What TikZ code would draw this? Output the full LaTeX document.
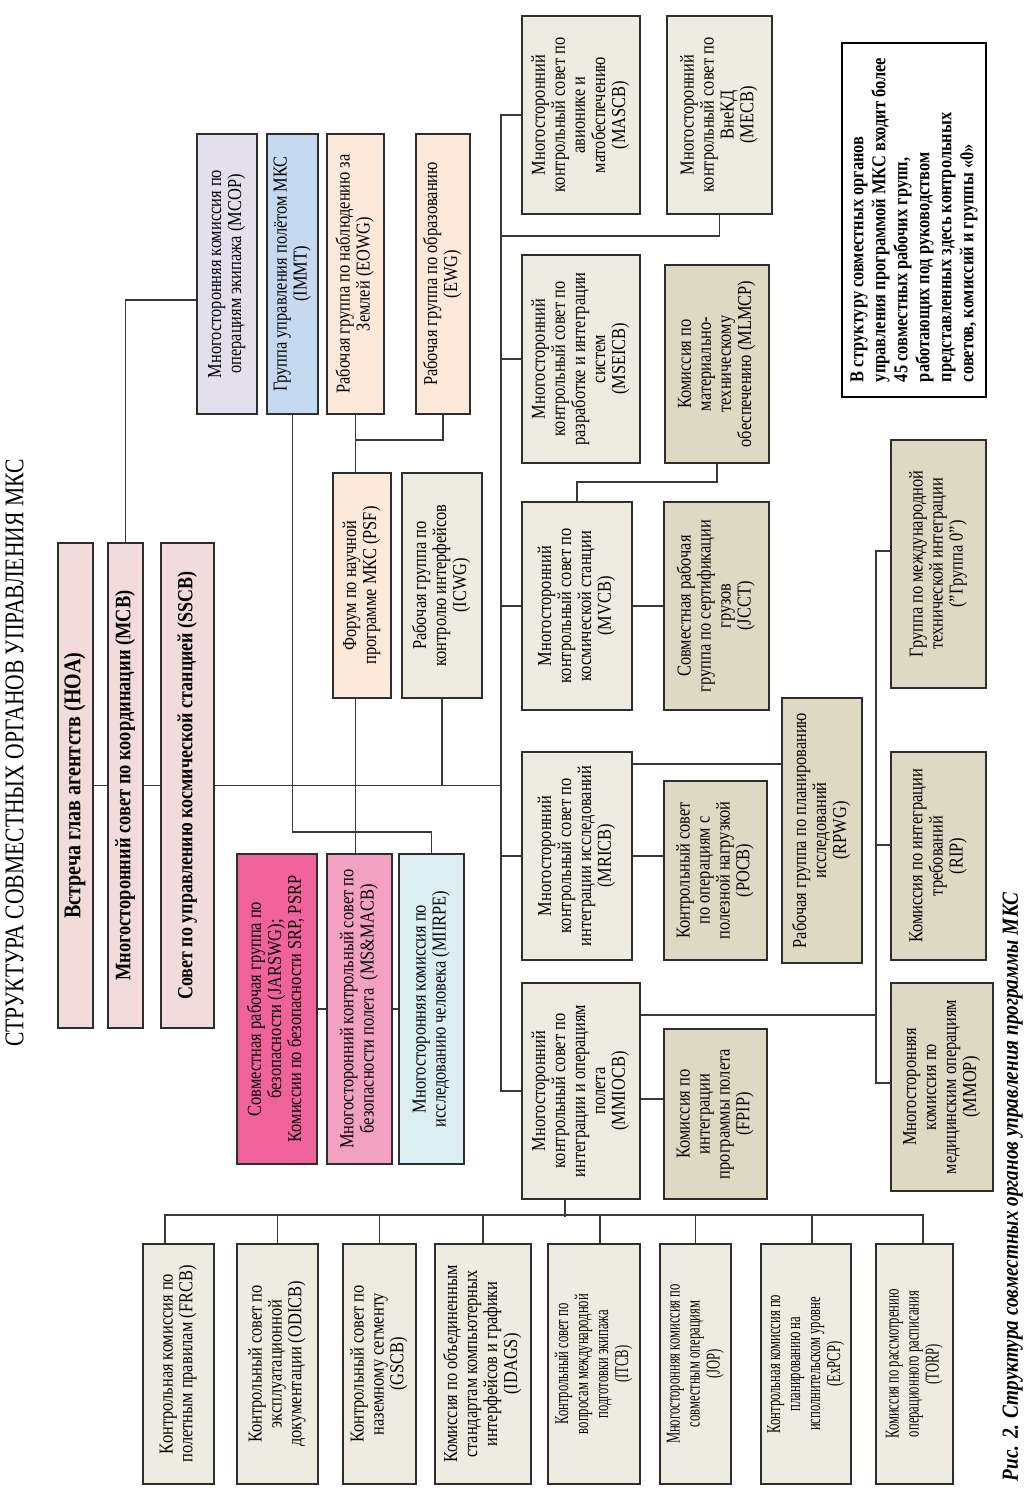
\documentclass[tikz,border=0pt]{standalone}
\usepackage{fontspec}
\setmainfont{Liberation Serif}
\usepackage{graphicx}
\usetikzlibrary{calc}
\pgfdeclarelayer{bg}
\pgfsetlayers{bg,main}
\definecolor{bdr}{HTML}{2E2E2E}
\definecolor{lnc}{HTML}{383838}
\definecolor{pinkA}{HTML}{F2DCDB}
\definecolor{lav}{HTML}{E4DFEC}
\definecolor{blueA}{HTML}{C5D9F1}
\definecolor{peach}{HTML}{FDE9D9}
\definecolor{lightA}{HTML}{EEECE1}
\definecolor{tanA}{HTML}{DDD9C3}
\definecolor{hotpink}{HTML}{F0639A}
\definecolor{pinkB}{HTML}{F3A1C0}
\definecolor{cyanA}{HTML}{DAEEF3}
\newcommand\vtxt[6][c]{\rotatebox{90}{\scalebox{1}[#6]{\fontsize{#2}{#3}\selectfont#4\begin{tabular}{@{}#1@{}}#5\end{tabular}}}}
\newcommand\txn[1]{\vtxt{8.2}{8.33}{}{#1}{1.2}}
\newcommand\txs[1]{\vtxt{6.3}{6.45}{}{#1}{1.55}}
\tikzset{
  bx/.style n args={3}{draw=bdr, line width=1pt, fill=#1, inner sep=0pt, minimum width=#2*0.5pt, minimum height=#3*0.5pt},
  ln/.style={draw=lnc, line width=0.8pt},
}
\begin{document}
\begin{tikzpicture}[x=0.5pt,y=-0.5pt]
\useasboundingbox (0,0) rectangle (1030,1492);

\node[inner sep=0pt] (title) at (18,753) {\vtxt{10.8}{11}{}{СТРУКТУРА СОВМЕСТНЫХ ОРГАНОВ УПРАВЛЕНИЯ МКС}{1.25}};

\node[bx={pinkA}{35}{485}] (HOA) at (75.5,785.5) {\vtxt{10}{10}{\bfseries}{Встреча глав агентств (HOA)}{1.2}};
\node[bx={pinkA}{35}{485}] (MCB) at (125.5,785.5) {\vtxt{9.2}{10}{\bfseries}{Многосторонний совет по координации (MCB)}{1.2}};
\node[bx={pinkA}{53}{485}] (SSCB) at (187.5,785.5) {\vtxt{9}{10}{\bfseries}{Совет по управлению космической станцией (SSCB)}{1.2}};

\node[bx={lav}{60}{280}] (MCOP) at (227,274) {\txn{Многосторонняя комиссия по\\операциям экипажа (MCOP)}};
\node[bx={blueA}{51}{280}] (IMMT) at (292.5,274) {\txn{Группа управления полётом МКС\\(IMMT)}};
\node[bx={peach}{57}{280}] (EOWG) at (355.5,274) {\txn{Рабочая группа по наблюдению за\\Землей (EOWG)}};
\node[bx={peach}{54}{280}] (EWG) at (443,274) {\txn{Рабочая группа по образованию\\(EWG)}};
\node[bx={peach}{58}{225}] (PSF) at (362,585.5) {\txn{Форум по научной\\программе МКС (PSF)}};
\node[bx={lightA}{80}{225}] (ICWG) at (442,585.5) {\txn{Рабочая группа по\\контролю интерфейсов\\(ICWG)}};

\node[bx={hotpink}{80}{310}] (JARSWG) at (277,1009) {\txn{Совместная рабочая группа по\\безопасности (JARSWG);\\Комиссии по безопасности SRP, PSRP}};
\node[bx={pinkB}{65}{310}] (MSMACB) at (359.5,1009) {\txn{Многосторонний контрольный совет по\\безопасности полета~ (MS\&MACB)}};
\node[bx={cyanA}{65}{310}] (MIIRPE) at (431.5,1009) {\txn{Многосторонняя комиссия по\\исследованию человека (MIIRPE)}};

\node[bx={lightA}{118}{198}] (MASCB) at (581,115) {\txn{Многосторонний\\контрольный совет по\\авионике и\\матобеспечению\\(MASCB)}};
\node[bx={lightA}{105}{198}] (MECB) at (719.5,115) {\txn{Многосторонний\\контрольный совет по\\ВнеКД\\(MECB)}};
\node[bx={lightA}{118}{208}] (MSEICB) at (581,359) {\txn{Многосторонний\\контрольный совет по\\разработке и интеграции\\систем\\(MSEICB)}};
\node[bx={tanA}{104}{198}] (MLMCP) at (717,364) {\txn{Комиссия по\\материально-\\техническому\\обеспечению (MLMCP)}};

\node[draw=black, line width=1pt, fill=white, inner sep=0pt, minimum width=72pt, minimum height=177pt] (note) at (914,220) {\vtxt[l]{8.2}{9.17}{\bfseries}{В структуру совместных органов\\управления программой МКС входит более\\45 совместных рабочих групп,\\работающих под руководством\\представленных здесь контрольных\\советов, комиссий и группы «0»}{1.2}};

\node[bx={lightA}{110}{208}] (MVCB) at (577,606) {\txn{Многосторонний\\контрольный совет по\\космической станции\\(MVCB)}};
\node[bx={tanA}{105}{208}] (JCCT) at (716.5,606) {\txn{Совместная рабочая\\группа по сертификации\\грузов\\(JCCT)}};
\node[bx={lightA}{110}{208}] (MRICB) at (577,856) {\txn{Многосторонний\\контрольный совет по\\интеграции исследований\\(MRICB)}};
\node[bx={tanA}{103}{179}] (POCB) at (715.5,870.5) {\txn{Контрольный совет\\по операциям с\\полезной нагрузкой\\(POCB)}};
\node[bx={tanA}{80}{265}] (RPWG) at (822,830.5) {\txn{Рабочая группа по планированию\\исследований\\(RPWG)}};
\node[bx={tanA}{95}{248}] (Group0) at (938.5,564) {\txn{Группа по международной\\технической интеграции\\("Группа 0")}};
\node[bx={tanA}{95}{208}] (RIP) at (938.5,856) {\txn{Комиссия по интеграции\\требований\\(RIP)}};
\node[bx={tanA}{102}{208}] (MMOP) at (942,1087) {\txn{Многосторонняя\\комиссия по\\медицинским операциям\\(MMOP)}};
\node[bx={lightA}{118}{216}] (MMIOCB) at (581,1091) {\txn{Многосторонний\\контрольный совет по\\интеграции и операциям\\полета\\(MMIOCB)}};
\node[bx={tanA}{103}{170}] (FPIP) at (715.5,1114) {\txn{Комиссия по\\интеграции\\программы полета\\(FPIP)}};

\node[bx={lightA}{71}{240}] (FRCB) at (178.5,1364) {\txn{Контрольная комиссия по\\полетным правилам (FRCB)}};
\node[bx={lightA}{81}{240}] (ODICB) at (277.5,1364) {\txn{Контрольный совет по\\эксплуатационной\\документации (ODICB)}};
\node[bx={lightA}{73}{240}] (GSCB) at (379.5,1364) {\txn{Контрольный совет по\\наземному сегменту\\(GSCB)}};
\node[bx={lightA}{96}{240}] (IDAGS) at (483,1364) {\txn{Комиссия по объединенным\\стандартам компьютерных\\интерфейсов и графики\\(IDAGS)}};
\node[bx={lightA}{92}{240}] (ITCB) at (594,1364) {\txs{Контрольный совет по\\вопросам международной\\подготовки экипажа\\(ITCB)}};
\node[bx={lightA}{71}{240}] (JOP) at (695.5,1364) {\txs{Многосторонняя комиссия по\\совместным операциям\\(JOP)}};
\node[bx={lightA}{90}{240}] (ExPCP) at (806,1364) {\txs{Контрольная комиссия по\\планированию на\\исполнительском уровне\\(ExPCP)}};
\node[bx={lightA}{77}{240}] (TORP) at (914.5,1364) {\txs{Комиссия по рассмотрению\\операционного расписания\\(TORP)}};

\node[inner sep=0pt] (caption) at (1013,1187) {\vtxt{9.6}{10}{\bfseries\itshape}{Рис. 2. Структура совместных органов управления программы МКС}{1.2}};

\begin{pgfonlayer}{bg}
\fill[white] (0,0) rectangle (1030,1492);
\coordinate (tx) at (501,0);
\coordinate (vx) at (876,0);
\coordinate (l236) at (0,236);
\coordinate (l482) at (0,482);
\coordinate (l832) at (0,832);
\coordinate (l440) at (0,440);
\coordinate (l764) at (0,764);
\coordinate (l1099) at (0,1099);
\coordinate (l1015) at (0,1015);
\coordinate (l551) at (0,551);
\coordinate (l845) at (0,845);
\coordinate (l1083) at (0,1083);

\draw[ln] (HOA.east) -- (HOA.east -| tx);
\draw[ln] (MASCB.west) -- (MASCB.west -| tx) -- (MMIOCB.west -| tx) -- (MMIOCB.west);
\draw[ln] (MSEICB.west) -- (MSEICB.west -| tx);
\draw[ln] (MVCB.west) -- (MVCB.west -| tx);
\draw[ln] (MRICB.west) -- (MRICB.west -| tx);
\draw[ln] (MECB.south) |- (l236 -| tx);
\draw[ln] (MLMCP.south) |- (MVCB.north |- l482) -- (MVCB.north);
\draw[ln] ($(MCOP.west)+(0,26)$) -| (MCB.north);
\draw[ln] (IMMT.south) |- (MIIRPE.north |- l832) -- (MIIRPE.north);
\draw[ln] (EOWG.south) -- (EOWG.south |- MSMACB.north);
\draw[ln] (EWG.south) |- (EOWG.south |- l440);
\draw[ln] (ICWG.south) -- (ICWG.south |- HOA.east);
\draw[ln] (JARSWG.east) -- (MSMACB.west);
\draw[ln] (MSMACB.east) -- (MIIRPE.west);
\draw[ln] (MVCB.east) -- (JCCT.west);
\draw[ln] (MRICB.east) -- (MRICB.east -| POCB.west);
\draw[ln] (MRICB.east |- l764) -- (RPWG.west |- l764);
\draw[ln] (MMIOCB.east |- l1099) -- (FPIP.west |- l1099);
\draw[ln] (MMIOCB.east |- l1015) -- (vx |- l1015);
\draw[ln] (Group0.west |- l551) -| (vx |- l1083) -- (MMOP.west |- l1083);
\draw[ln] (RIP.west |- l845) -- (vx |- l845);
\draw[ln] ($(FRCB.north)+(-13.5,0)$) -- ++(0,-28) -| ($(TORP.north)+(8.5,0)$);
\draw[ln] (ODICB.north) -- ++(0,-28);
\draw[ln] (GSCB.north) -- ++(0,-28);
\draw[ln] (IDAGS.north) -- ++(0,-28);
\draw[ln] ($(ITCB.north)+(6,0)$) -- ++(0,-28);
\draw[ln] (JOP.north) -- ++(0,-28);
\draw[ln] ($(ExPCP.north)+(6,0)$) -- ++(0,-28);
\draw[ln] ($(MMIOCB.south)+(-16,0)$) -- ++(0,17);
\end{pgfonlayer}
\end{tikzpicture}
\end{document}
